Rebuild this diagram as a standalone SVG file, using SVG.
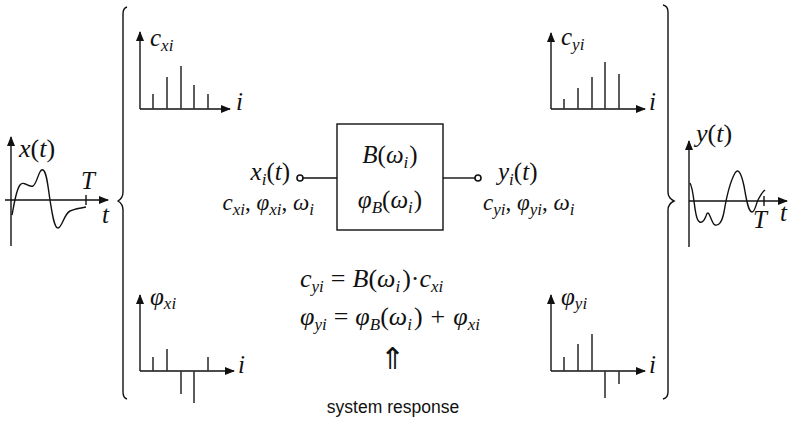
<svg xmlns="http://www.w3.org/2000/svg" width="790" height="421" viewBox="0 0 790 421">
<defs>
<marker id="ah" viewBox="0 0 10 8" refX="9" refY="4" markerWidth="10" markerHeight="8" markerUnits="userSpaceOnUse" orient="auto">
<path d="M0,0 L10,4 L0,8 Z" fill="#111"/>
</marker>
</defs>
<style>
.ax{stroke:#111;stroke-width:1.4;fill:none;marker-end:url(#ah)}
.bar{stroke:#333;stroke-width:1.6}
.ln{stroke:#111;stroke-width:1.4;fill:none}
.cv{stroke:#111;stroke-width:1.4;fill:none}
.m{font-family:"Liberation Serif","Times New Roman",serif;font-style:italic;font-size:25px;fill:#111}
.c{font-size:23px}
.e{font-size:26px}
.u{font-style:normal}
.s{font-size:17px}
.lab{font-family:"Liberation Sans",Arial,sans-serif;font-size:17.5px;fill:#111}
</style>

<g id="connectors">
<path class="ln" d="M127,7 Q123,8 123,14 L123,192 Q123,198 118,201 Q123,204 123,210 L123,392 Q123,398 127,399"/>
<path class="ln" d="M663,5 Q668,6 668,12 L668,192 Q668,198 674,201 Q668,204 668,210 L668,392 Q668,398 663,399"/>
<line class="ln" x1="303" y1="178" x2="337" y2="178"/>
<line class="ln" x1="443" y1="178" x2="475" y2="178"/>
</g>

<g id="xt-plot">
<line class="ax" x1="11" y1="246" x2="11" y2="137"/>
<line class="ax" x1="5" y1="200" x2="108" y2="200"/>
<line class="ln" x1="86" y1="195" x2="86" y2="205"/>
<path class="cv" d="M12,215 C14,205 16,190 20,185 C24,180 28,188 33,186 C37,184 39,168 43,170 C47,172 48,188 50,200 C52,212 54,228 58,228 C62,228 64,214 70,211 C75,209 80,208 86,207"/>
<text class="m" x="19" y="157" style="font-size:26px">x<tspan class="u">(</tspan>t<tspan class="u">)</tspan></text>
<text class="m" x="81" y="189">T</text>
<text class="m" x="102" y="223">t</text>
</g>

<g id="cxi-plot">
<line class="ax" x1="140" y1="109" x2="140" y2="32"/>
<line class="ax" x1="140" y1="109" x2="230" y2="109"/>
<line class="bar" x1="153" y1="109" x2="153" y2="94"/>
<line class="bar" x1="167" y1="109" x2="167" y2="77"/>
<line class="bar" x1="181" y1="109" x2="181" y2="66"/>
<line class="bar" x1="194" y1="109" x2="194" y2="85"/>
<line class="bar" x1="208" y1="109" x2="208" y2="94"/>
<text class="m" x="150" y="46">c<tspan class="s" dy="5">xi</tspan></text>
<text class="m" x="236" y="110">i</text>
</g>

<g id="cyi-plot">
<line class="ax" x1="551" y1="109" x2="551" y2="33"/>
<line class="ax" x1="551" y1="109" x2="645" y2="109"/>
<line class="bar" x1="564" y1="109" x2="564" y2="99"/>
<line class="bar" x1="578" y1="109" x2="578" y2="88"/>
<line class="bar" x1="592" y1="109" x2="592" y2="77"/>
<line class="bar" x1="605" y1="109" x2="605" y2="62"/>
<line class="bar" x1="619" y1="109" x2="619" y2="74"/>
<text class="m" x="561" y="45">c<tspan class="s" dy="5">yi</tspan></text>
<text class="m" x="649" y="110">i</text>
</g>

<g id="yt-plot">
<line class="ax" x1="689" y1="247" x2="689" y2="141"/>
<line class="ax" x1="689" y1="201" x2="787" y2="201"/>
<line class="ln" x1="764" y1="196" x2="764" y2="206"/>
<path class="cv" d="M690,183 C694,190 694,210 697,218 C699,224 703,224 706,216 C709,206 711,224 715,225 C719,226 722,222 724,212 C726,200 730,182 735,173 C738,168 741,172 744,186 C746,197 748,212 752,212 C755,212 756,204 758,200 C760,196 762,192 765,190"/>
<text class="m" x="696" y="142" style="font-size:26px">y<tspan class="u">(</tspan>t<tspan class="u">)</tspan></text>
<text class="m" x="753" y="228">T</text>
<text class="m" x="780" y="221">t</text>
</g>

<g id="phixi-plot">
<line class="ax" x1="140" y1="371" x2="140" y2="295"/>
<line class="ax" x1="140" y1="371" x2="234" y2="371"/>
<line class="bar" x1="153" y1="371" x2="153" y2="357"/>
<line class="bar" x1="167" y1="371" x2="167" y2="349"/>
<line class="bar" x1="181" y1="371" x2="181" y2="394"/>
<line class="bar" x1="194" y1="371" x2="194" y2="403"/>
<line class="bar" x1="208" y1="371" x2="208" y2="357"/>
<text class="m" x="150" y="305">φ<tspan class="s" dy="4">xi</tspan></text>
<text class="m" x="238" y="373">i</text>
</g>

<g id="phiyi-plot">
<line class="ax" x1="551" y1="371" x2="551" y2="295"/>
<line class="ax" x1="551" y1="371" x2="645" y2="371"/>
<line class="bar" x1="564" y1="371" x2="564" y2="357"/>
<line class="bar" x1="578" y1="371" x2="578" y2="344"/>
<line class="bar" x1="592" y1="371" x2="592" y2="334"/>
<line class="bar" x1="605" y1="371" x2="605" y2="398"/>
<line class="bar" x1="619" y1="371" x2="619" y2="384"/>
<text class="m" x="561" y="305">φ<tspan class="s" dy="4">yi</tspan></text>
<text class="m" x="649" y="373">i</text>
</g>

<g id="input">
<circle cx="300" cy="178" r="3" fill="#fff" stroke="#111" stroke-width="1.6"/>
<text class="m" x="290" y="180" text-anchor="end">x<tspan class="s" dy="5">i</tspan><tspan class="u" dy="-5">(</tspan>t<tspan class="u">)</tspan></text>
<text class="m c" x="314" y="210" text-anchor="end">c<tspan class="s" dy="5">xi</tspan><tspan class="u" dy="-5">, </tspan>φ<tspan class="s" dy="5">xi</tspan><tspan class="u" dy="-5">, </tspan>ω<tspan class="s" dy="5">i</tspan></text>
</g>

<g id="system">
<rect x="337" y="124" width="106" height="106" fill="#fff" stroke="#111" stroke-width="1.4"/>
<text class="m" x="390" y="163" text-anchor="middle">B<tspan class="u">(</tspan>ω<tspan class="s" dy="5">i</tspan><tspan class="u" dy="-5" dx="1">)</tspan></text>
<text class="m" x="390" y="208" text-anchor="middle">φ<tspan class="s" dy="5">B</tspan><tspan class="u" dy="-5">(</tspan>ω<tspan class="s" dy="5">i</tspan><tspan class="u" dy="-5" dx="1">)</tspan></text>
</g>

<g id="output">
<circle cx="478" cy="178" r="3" fill="#fff" stroke="#111" stroke-width="1.6"/>
<text class="m" x="498" y="180">y<tspan class="s" dy="5">i</tspan><tspan class="u" dy="-5">(</tspan>t<tspan class="u">)</tspan></text>
<text class="m c" x="483" y="210">c<tspan class="s" dy="5">yi</tspan><tspan class="u" dy="-5">, </tspan>φ<tspan class="s" dy="5">yi</tspan><tspan class="u" dy="-5">, </tspan>ω<tspan class="s" dy="5">i</tspan></text>
</g>

<g id="equations">
<text class="m e" x="300" y="287">c<tspan class="s" dy="5">yi</tspan><tspan class="u" dy="-5" dx="7">=</tspan><tspan dx="7">B</tspan><tspan class="u">(</tspan>ω<tspan class="s" dy="5">i</tspan><tspan class="u" dy="-5" dx="2">)·</tspan>c<tspan class="s" dy="5">xi</tspan></text>
<text class="m e" x="300" y="325">φ<tspan class="s" dy="5">yi</tspan><tspan class="u" dy="-5" dx="7">=</tspan><tspan dx="7">φ</tspan><tspan class="s" dy="5">B</tspan><tspan class="u" dy="-5">(</tspan>ω<tspan class="s" dy="5">i</tspan><tspan class="u" dy="-5" dx="2">)</tspan><tspan class="u" dx="8">+</tspan><tspan dx="8">φ</tspan><tspan class="s" dy="5">xi</tspan></text>
<text class="m u" x="392" y="369" text-anchor="middle" style="font-size:30px">⇑</text>
<text class="lab" x="393" y="413" text-anchor="middle">system response</text>
</g>
</svg>
